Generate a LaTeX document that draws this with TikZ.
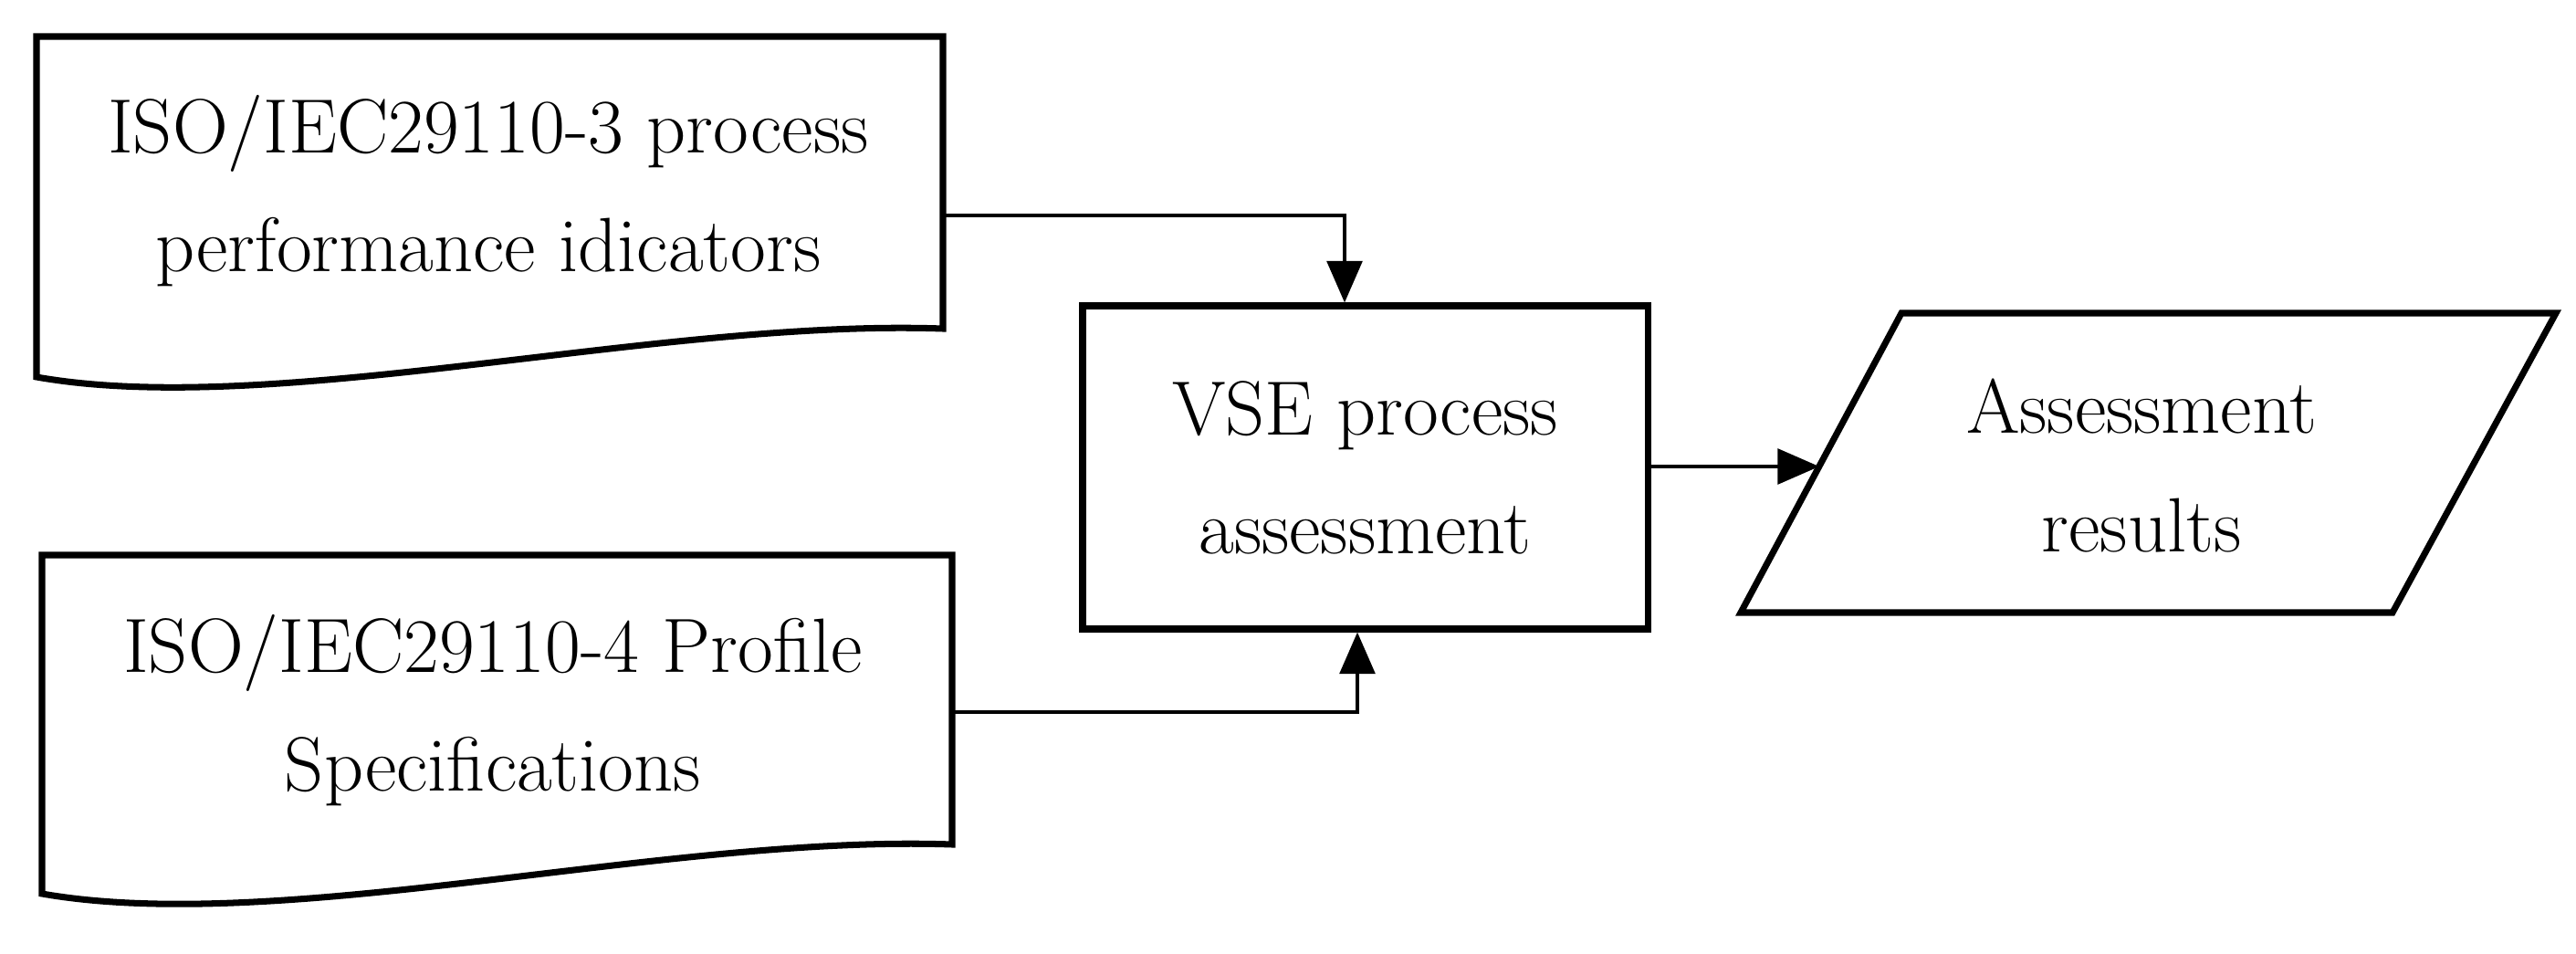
\documentclass[tikz,border=0pt]{standalone}
\usetikzlibrary{arrows.meta}
\tikzset{
  shapeline/.style={line width=2pt},
  flow/.style={line width=1.2pt, -{Triangle[length=13pt,width=11pt]}},
  lbl/.style={align=center, font=\fontsize{24}{37}\selectfont}
}
\begin{document}
\begin{tikzpicture}
			\useasboundingbox (0,0) rectangle (28.22,10.44);
			% input documents
			\draw[shapeline] (0.40,6.31) -- (0.40,10.04) -- (10.33,10.04) -- (10.33,6.84)
				.. controls (7.2,6.95) and (3,5.85) .. (0.40,6.31) -- cycle;
			\coordinate (docA) at (10.33,8.08);
			\node[lbl] (txtA) at (5.35,8.35) {ISO/IEC29110-3 process\\performance idicators};
			\draw[shapeline] (0.46,0.65) -- (0.46,4.36) -- (10.43,4.36) -- (10.43,1.19)
				.. controls (7.3,1.30) and (3.1,0.19) .. (0.46,0.65) -- cycle;
			\coordinate (docB) at (10.43,2.64);
			\node[lbl] (txtB) at (5.40,2.66) {ISO/IEC29110-4 Profile\\Specifications};
			% assessment
			\node[shapeline, draw, minimum width=6.19cm, minimum height=3.54cm, lbl] (vse) at (14.955,5.32) {VSE process\\assessment};
			% results
			\draw[shapeline] (20.83,7.01) -- (28.00,7.01) -- (26.21,3.73) -- (19.07,3.73) -- cycle;
			\coordinate (res) at (19.93,5.33);
			\node[lbl] (txtR) at (23.46,5.34) {Assessment\\results};
			% connectors
			\draw[flow] (docA) -| (vse.north -| 14.73,0);
			\draw[flow] (docB) -| (vse.south -| 14.87,0);
			\draw[flow] (vse.east |- res) -- (res);
\end{tikzpicture}
\end{document}
